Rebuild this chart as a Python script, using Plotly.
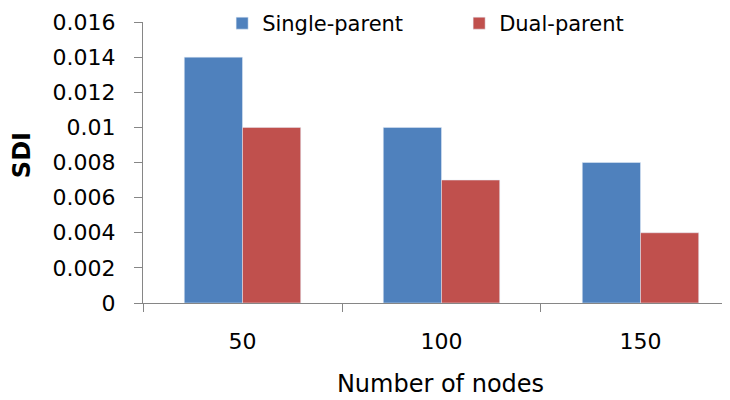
import plotly.graph_objects as go

nodes = ["50", "100", "150"]
single_parent = [0.014, 0.010, 0.008]
dual_parent = [0.010, 0.007, 0.004]
y_ticks = [0, 0.002, 0.004, 0.006, 0.008, 0.01, 0.012, 0.014, 0.016]
y_tick_text = ["0", "0.002", "0.004", "0.006", "0.008", "0.01", "0.012", "0.014", "0.016"]

FONT = "DejaVu Sans, Arial, sans-serif"
AXIS_COLOR = "#868686"

fig = go.Figure()
fig.add_trace(go.Bar(x=nodes, y=single_parent, name="Single-parent", marker=dict(color="#4F81BD")))
fig.add_trace(go.Bar(x=nodes, y=dual_parent, name="Dual-parent", marker=dict(color="#C0504D")))

# y-axis title placed by hand (Excel centres it a bit higher than plotly does)
fig.add_annotation(
    text="<b>SDI</b>",
    xref="paper",
    yref="paper",
    x=-0.203,
    y=0.527,
    xanchor="center",
    yanchor="middle",
    textangle=-90,
    showarrow=False,
    font=dict(size=24),
)

# page has an 8px body margin, so offsets are shifted accordingly
fig.update_layout(
    width=730,
    height=400,
    margin=dict(l=135, r=0, t=14, b=105, autoexpand=False),
    paper_bgcolor="white",
    plot_bgcolor="white",
    barmode="group",
    bargap=0.415,
    bargroupgap=0,
    font=dict(family=FONT, size=22, color="black"),
    showlegend=True,
    legend=dict(
        orientation="h",
        x=0.133,
        y=1.0676,
        xanchor="left",
        yanchor="top",
        font=dict(size=21),
        entrywidth=192,
        entrywidthmode="pixels",
        bgcolor="rgba(0,0,0,0)",
        borderwidth=0,
    ),
    xaxis=dict(
        range=[-0.5, 2.49],
        showline=True,
        linecolor=AXIS_COLOR,
        linewidth=1,
        ticks="outside",
        tickson="boundaries",
        ticklen=8,
        tickcolor=AXIS_COLOR,
        showgrid=False,
        tickfont=dict(size=22),
        ticklabelstandoff=19,
        title=dict(text="Number of nodes", font=dict(size=24), standoff=21),
    ),
    yaxis=dict(
        range=[0, 0.016],
        tickvals=y_ticks,
        ticktext=y_tick_text,
        showline=True,
        linecolor=AXIS_COLOR,
        linewidth=1,
        ticks="outside",
        ticklen=8,
        tickcolor=AXIS_COLOR,
        showgrid=False,
        zeroline=False,
        tickfont=dict(size=22),
        ticklabelstandoff=14,
    ),
)

fig.write_html("out.html")
